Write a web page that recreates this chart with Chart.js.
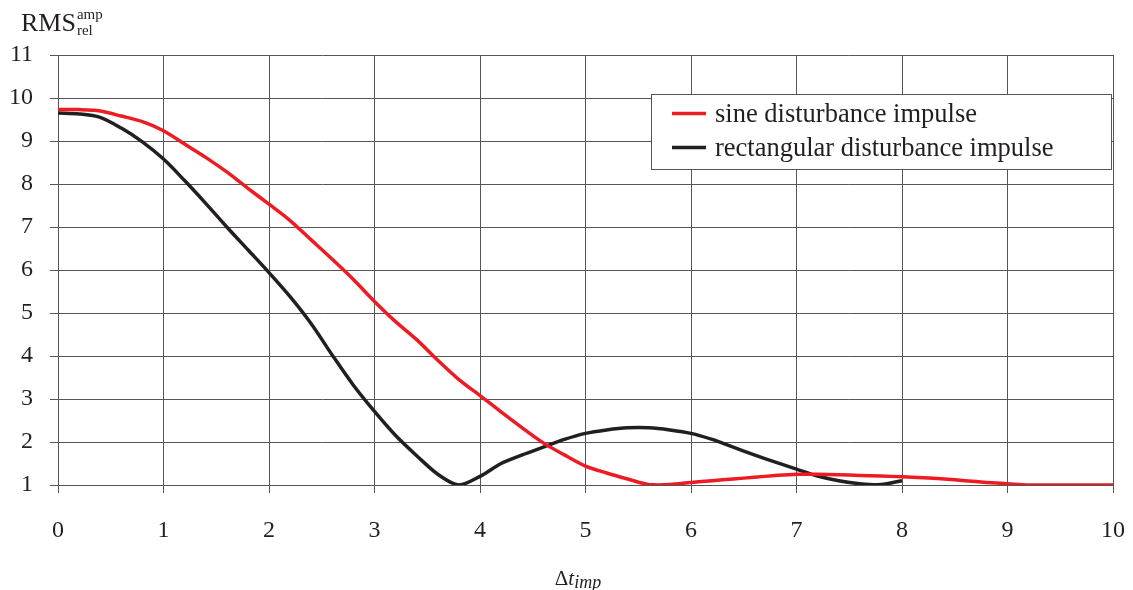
<!DOCTYPE html>
<html>
<head>
<meta charset="utf-8">
<script src="https://cdn.jsdelivr.net/npm/chart.js@4/dist/chart.umd.min.js"></script>
<style>
  html, body { margin: 0; padding: 0; background: #fff; }
  #wrap { width: 1133px; height: 590px; }
</style>
</head>
<body>
<div id="wrap"><canvas id="chart" width="1133" height="590"></canvas></div>
<script>
const sineX = [0, 0.2, 0.4, 0.6, 0.8, 1.0, 1.2, 1.4, 1.6, 1.8, 2.0, 2.2, 2.4, 2.6, 2.8, 3.0, 3.2, 3.4, 3.6, 3.8,
  4.0, 4.2, 4.4, 4.6, 4.8, 5.0, 5.2, 5.4, 5.6, 5.8, 6.0, 6.2, 6.4, 6.6, 6.8, 7.0, 7.2, 7.4, 7.6, 7.8,
  8.0, 8.2, 8.4, 8.6, 8.8, 9.0, 9.2, 9.4, 9.6, 9.8, 10.0];
const sineY = [9.73, 9.73, 9.70, 9.58, 9.45, 9.24, 8.93, 8.62, 8.28, 7.90, 7.53, 7.15, 6.70, 6.25, 5.78, 5.27, 4.80, 4.38, 3.90, 3.45,
  3.08, 2.70, 2.33, 1.98, 1.70, 1.44, 1.28, 1.14, 1.01, 1.01, 1.06, 1.10, 1.14, 1.18, 1.22, 1.25, 1.25, 1.24, 1.22, 1.21,
  1.19, 1.17, 1.14, 1.10, 1.06, 1.03, 1.00, 1.00, 1.00, 1.00, 1.00];

const rectX = [0, 0.2, 0.4, 0.6, 0.8, 1.0, 1.2, 1.4, 1.6, 1.8, 2.0, 2.2, 2.4, 2.6, 2.8, 3.0, 3.2, 3.4, 3.6, 3.8,
  4.0, 4.2, 4.4, 4.6, 4.8, 5.0, 5.2, 5.4, 5.6, 5.8, 6.0, 6.2, 6.4, 6.6, 6.8, 7.0, 7.2, 7.4, 7.6, 7.8, 8.0];
const rectY = [9.65, 9.63, 9.55, 9.30, 8.98, 8.58, 8.08, 7.55, 7.00, 6.47, 5.94, 5.38, 4.75, 4.02, 3.32, 2.71, 2.15, 1.68, 1.25, 1.00,
  1.20, 1.50, 1.70, 1.88, 2.06, 2.20, 2.28, 2.33, 2.33, 2.28, 2.20, 2.06, 1.88, 1.70, 1.53, 1.37, 1.21, 1.10, 1.03, 1.01, 1.10];

const xTicks = [0, 1, 2, 3, 4, 5, 6, 7, 8, 9, 10];
const yTicks = [1, 2, 3, 4, 5, 6, 7, 8, 9, 10, 11];

const seriesNames = ['sine disturbance impulse', 'rectangular disturbance impulse'];
const seriesColors = ['#ed1c24', '#231f20'];

const serif = '"Liberation Serif", "DejaVu Serif", serif';

function toPoints(xs, ys) {
  return xs.map((x, i) => ({ x, y: ys[i] }));
}

// legend box and the axis titles with sub/superscripts
const extrasPlugin = {
  id: 'extras',
  afterDraw(chart) {
    const ctx = chart.ctx;
    ctx.save();

    // legend
    const bx = 651, by = 94, bw = 460, bh = 75;
    ctx.fillStyle = '#fff';
    ctx.fillRect(bx, by, bw, bh);
    ctx.strokeStyle = '#555';
    ctx.lineWidth = 1;
    ctx.strokeRect(bx + 0.5, by + 0.5, bw, bh);
    ctx.font = '26.5px ' + serif;
    ctx.textBaseline = 'alphabetic';
    ctx.textAlign = 'left';
    seriesNames.forEach((name, i) => {
      const y = 113.5 + i * 34;
      ctx.strokeStyle = seriesColors[i];
      ctx.lineWidth = 3.5;
      ctx.beginPath();
      ctx.moveTo(672, y);
      ctx.lineTo(706, y);
      ctx.stroke();
      ctx.fillStyle = '#231f20';
      ctx.fillText(name, 715, y + 8.5);
    });

    // y title: RMS with amp / rel
    ctx.fillStyle = '#231f20';
    ctx.font = '26px ' + serif;
    ctx.fillText('RMS', 21, 31);
    const w = ctx.measureText('RMS').width;
    ctx.font = '15px ' + serif;
    ctx.fillText('amp', 21 + w + 1, 19);
    ctx.fillText('rel', 21 + w + 1, 35);

    // x title: Δt imp
    ctx.font = '21px ' + serif;
    const dW = ctx.measureText('\u0394').width;
    ctx.font = 'italic 21px ' + serif;
    const tW = ctx.measureText('t').width;
    ctx.font = 'italic 18px ' + serif;
    const iW = ctx.measureText('imp').width;
    const x0 = 578 - (dW + tW + iW) / 2;
    ctx.font = '21px ' + serif;
    ctx.fillText('\u0394', x0, 585);
    ctx.font = 'italic 21px ' + serif;
    ctx.fillText('t', x0 + dW, 585);
    ctx.font = 'italic 18px ' + serif;
    ctx.fillText('imp', x0 + dW + tW, 588);

    ctx.restore();
  },
};

new Chart(document.getElementById('chart'), {
  type: 'line',
  data: {
    datasets: [
      {
        label: seriesNames[0],
        data: toPoints(sineX, sineY),
        borderColor: seriesColors[0],
        borderWidth: 3.5,
        pointRadius: 0,
        tension: 0.3,
        fill: false,
      },
      {
        label: seriesNames[1],
        data: toPoints(rectX, rectY),
        borderColor: seriesColors[1],
        borderWidth: 3.5,
        pointRadius: 0,
        tension: 0.3,
        fill: false,
      },
    ],
  },
  options: {
    responsive: false,
    animation: false,
    layout: { padding: { left: 0, right: 20, top: 55, bottom: 0 } },
    plugins: {
      legend: { display: false },
      tooltip: { enabled: false },
    },
    scales: {
      x: {
        type: 'linear',
        min: 0,
        max: 10,
        afterBuildTicks(scale) {
          scale.ticks = xTicks.map((v) => ({ value: v }));
        },
        afterFit(scale) {
          scale.height = 105;
          // the tick label padding would otherwise shrink the plot on the right
          scale.paddingLeft = 0;
          scale.paddingRight = 0;
        },
        grid: { color: '#555', lineWidth: 1, tickLength: 8, drawTicks: true },
        border: { color: '#555' },
        ticks: {
          color: '#231f20',
          font: { family: serif, size: 24 },
          padding: 23,
          maxRotation: 0,
        },
      },
      y: {
        min: 1,
        max: 11,
        afterBuildTicks(scale) {
          scale.ticks = yTicks.map((v) => ({ value: v }));
        },
        afterFit(scale) {
          scale.width = 58;
        },
        grid: { color: '#555', lineWidth: 1, tickLength: 8 },
        border: { color: '#555' },
        ticks: {
          color: '#231f20',
          font: { family: serif, size: 24 },
          padding: 17,
        },
      },
    },
  },
  plugins: [extrasPlugin],
});
</script>
</body>
</html>
